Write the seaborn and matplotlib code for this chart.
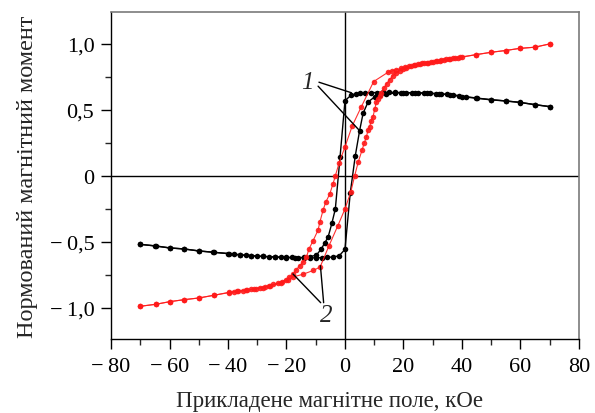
import pandas as pd
import matplotlib
matplotlib.use("Agg")
import matplotlib.pyplot as plt
from matplotlib.ticker import MultipleLocator, FuncFormatter
import seaborn as sns

# curve 1 (black), descending branch: +70 -> -70
black_down_x = [70, 65, 60, 55, 50, 45, 41.5, 39, 37, 35, 33, 31, 29, 27, 25, 23, 21, 19, 17, 15, 13,
                11, 9, 7, 5, 3.9, 2.2, 0, -1.7, -3.3, -4.5, -5.8, -7, -8.1, -9.8, -12, -14, -17, -20,
                -24, -28, -32, -36, -39.8, -44.9, -49.9, -55, -60, -64.7, -70]
black_down_y = [0.525, 0.54, 0.556, 0.568, 0.578, 0.59, 0.60, 0.608, 0.614, 0.618, 0.621, 0.624,
                0.626, 0.628, 0.629, 0.63, 0.631, 0.632, 0.633, 0.633, 0.633, 0.632, 0.631, 0.629,
                0.625, 0.62, 0.614, 0.57, 0.14, -0.25, -0.36, -0.465, -0.51, -0.553, -0.60, -0.612,
                -0.617, -0.62, -0.618, -0.614, -0.61, -0.604, -0.597, -0.588, -0.578, -0.568,
                -0.553, -0.545, -0.53, -0.518]
# curve 1 (black), ascending branch: -70 -> +70
black_up_x = [-70, -65, -60, -55, -50, -45, -40, -38, -36, -34, -32, -30, -28, -26, -24, -22, -20,
              -18, -16, -14, -12, -10, -8, -6, -4, -2, 0, 1.8, 3.5, 5, 6.2, 7.9, 10.2, 11.9, 14, 17,
              20, 24, 28, 32, 36, 40, 44.9, 50, 54.9, 59.7, 64.9, 70]
black_up_y = [-0.518, -0.53, -0.545, -0.553, -0.568, -0.578, -0.588, -0.593, -0.597, -0.601,
              -0.604, -0.607, -0.609, -0.611, -0.613, -0.615, -0.616, -0.617, -0.618, -0.619,
              -0.62, -0.62, -0.619, -0.617, -0.613, -0.605, -0.556, -0.13, 0.15, 0.343, 0.475,
              0.56, 0.60, 0.61, 0.62, 0.628, 0.63, 0.63, 0.627, 0.622, 0.615, 0.60, 0.589, 0.576,
              0.568, 0.558, 0.54, 0.525]

# curve 2 (red), descending branch: +70 -> -70
red_down_x = [70, 64.9, 59.7, 54.9, 50.1, 44.9, 40, 38.5, 37, 35.5, 34, 32.5, 31, 29.5, 28, 26.5,
              25, 23.5, 22, 20.5, 19, 17.5, 16, 14.7, 9.8, 5.5, 2.5, 0, -2, -3.3, -4.1, -5.2, -6.6,
              -7.5, -8.6, -9.2, -10.9, -12.3, -13.2, -14.3, -15.5, -16.7, -17.8, -19, -20.2, -21.5,
              -23, -24.5, -26, -27.5, -29, -30.5, -32, -33.5, -35, -36.5, -38, -39.8, -44.9,
              -49.9, -55, -59.9, -64.7, -70]
red_down_y = [1.0, 0.975, 0.966, 0.95, 0.937, 0.919, 0.90, 0.895, 0.89, 0.884, 0.878, 0.872, 0.867,
              0.862, 0.857, 0.852, 0.846, 0.84, 0.832, 0.823, 0.814, 0.804, 0.794, 0.785, 0.715,
              0.52, 0.38, 0.22, 0.10, 0.0, -0.06, -0.136, -0.2, -0.26, -0.35, -0.41, -0.49, -0.553,
              -0.616, -0.65, -0.68, -0.712, -0.742, -0.765, -0.785, -0.8, -0.812, -0.822, -0.832,
              -0.84, -0.847, -0.853, -0.859, -0.865, -0.87, -0.875, -0.879, -0.884, -0.904,
              -0.924, -0.937, -0.952, -0.972, -0.987]
# curve 2 (red), ascending branch: -70 -> +70
red_up_x = [-70, -64.7, -59.9, -55, -49.9, -44.9, -39.8, -37, -34, -31, -28, -25.5, -22, -19.5,
            -17.8, -14.4, -10.9, -8.5, -5.5, -2.5, 0, 2, 3.3, 4.5, 5.9, 6.6, 7.3, 7.9, 8.4, 9, 9.6,
            10.2, 10.7, 11.3, 11.9, 12.4, 13.3, 14.2, 15.3, 16.4, 17.5, 18.7, 19.8, 21, 22.5, 24,
            25.5, 27, 28.5, 30, 31.5, 33, 34.5, 36, 37.5, 39.2, 44.9, 50.1, 54.9, 59.7, 64.9, 70]
red_up_y = [-0.987, -0.972, -0.952, -0.937, -0.924, -0.904, -0.882, -0.874, -0.865, -0.856,
            -0.845, -0.833, -0.812, -0.788, -0.765, -0.745, -0.716, -0.69, -0.53, -0.38, -0.25,
            -0.12, 0.0, 0.103, 0.20, 0.25, 0.293, 0.35, 0.37, 0.419, 0.45, 0.508, 0.558, 0.583,
            0.608, 0.63, 0.665, 0.697, 0.73, 0.76, 0.78, 0.797, 0.81, 0.82, 0.83, 0.838, 0.846,
            0.853, 0.859, 0.865, 0.871, 0.877, 0.882, 0.887, 0.892, 0.899, 0.919, 0.937, 0.95,
            0.966, 0.975, 1.0]

x_ticks = [-80, -60, -40, -20, 0, 20, 40, 60, 80]
y_ticks = [-1.0, -0.5, 0, 0.5, 1.0]

sns.set_style("ticks")
plt.rcParams["font.family"] = ["Liberation Serif", "DejaVu Serif"]

fig = plt.figure(figsize=(5.95, 4.14), dpi=100)
ax = fig.add_axes([0.1866, 0.1787, 0.7864, 0.79])

ax.axhline(0, color="black", lw=1.0, zorder=1)
ax.axvline(0, color="black", lw=1.0, zorder=1)

branches = [
    (black_down_x, black_down_y, "black", 1.0, 4.0, 1.0),
    (black_up_x, black_up_y, "black", 1.0, 4.0, 1.0),
    (red_down_x, red_down_y, "#ff1a1a", 0.8, 4.0, 0.9),
    (red_up_x, red_up_y, "#ff1a1a", 0.8, 4.0, 0.9),
]
for bx, by, col, lw, ms, al in branches:
    df = pd.DataFrame({"H": bx, "M": by})
    sns.lineplot(data=df, x="H", y="M", sort=False, estimator=None, color=col, lw=lw,
                 marker="o", markersize=ms, markeredgewidth=0, alpha=al, ax=ax, zorder=3)

ax.set_xlim(-80, 80)
ax.set_ylim(-1.235, 1.242)
ax.set_xticks(x_ticks)
ax.set_yticks(y_ticks)
ax.xaxis.set_minor_locator(MultipleLocator(10))
ax.yaxis.set_minor_locator(MultipleLocator(0.25))


def fmt_x(v, pos):
    s = f"{abs(v):.0f}"
    return ("\u2212\u2009" + s) if v < 0 else s


def fmt_y(v, pos):
    if abs(v) < 1e-9:
        return "0"
    s = f"{abs(v):.1f}".replace(".", ",")
    return ("\u2212\u2009" + s) if v < 0 else s


ax.xaxis.set_major_formatter(FuncFormatter(fmt_x))
ax.yaxis.set_major_formatter(FuncFormatter(fmt_y))
ax.tick_params(which="major", direction="out", length=7, width=1, labelsize=16, colors="black")
ax.tick_params(which="minor", direction="out", length=4, width=1)
ax.tick_params(axis="x", pad=6)
ax.tick_params(axis="y", pad=5)

for side in ["left", "bottom"]:
    ax.spines[side].set_color("black")
    ax.spines[side].set_linewidth(1.0)
for side in ["top", "right"]:
    ax.spines[side].set_visible(True)
    ax.spines[side].set_color("#7a7a7a")
    ax.spines[side].set_linewidth(1.2)

ax.set_xlabel("Прикладене магнітне поле, кОе", fontsize=16.5)
ax.xaxis.set_label_coords(0.466, -0.155)
ax.set_ylabel("Нормований магнітний момент", fontsize=17.5, labelpad=8)

# labels 1 and 2 with pointer lines
ax.text(-12.8, 0.71, "1", fontsize=18, style="italic", ha="center", va="center")
ax.plot([-8.9, 2.2], [0.71, 0.63], color="black", lw=1.0, zorder=4)
ax.plot([-9.2, 5.0], [0.68, 0.343], color="black", lw=1.0, zorder=4)
ax.text(-6.4, -1.05, "2", fontsize=18, style="italic", ha="center", va="center")
ax.plot([-8.3, -17.8], [-0.96, -0.742], color="black", lw=1.0, zorder=4)
ax.plot([-7.3, -8.4], [-0.96, -0.68], color="black", lw=1.0, zorder=4)

fig.savefig("out.png", dpi=100)
